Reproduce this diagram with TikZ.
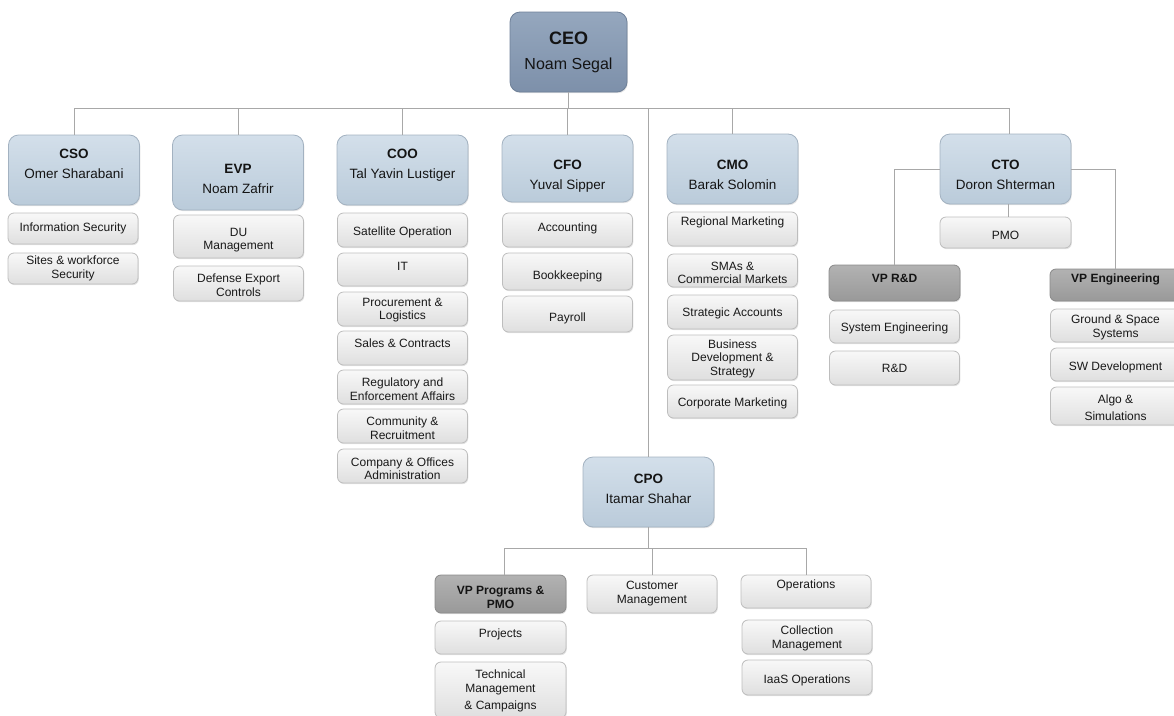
\documentclass[tikz,border=0pt]{standalone}
\usepackage{fontspec}
\setmainfont{Liberation Sans}
\usetikzlibrary{shadows}
\definecolor{chieftop}{HTML}{D3DFEA}
\definecolor{chiefbot}{HTML}{BACBDA}
\definecolor{chiefline}{HTML}{A3B2C1}
\definecolor{ceotop}{HTML}{95A7BE}
\definecolor{ceobot}{HTML}{7D90AA}
\definecolor{ceoline}{HTML}{6E8098}
\definecolor{vptop}{HTML}{B2B2B2}
\definecolor{vpbot}{HTML}{999999}
\definecolor{vpline}{HTML}{8A8A8A}
\definecolor{unittop}{HTML}{F8F8F8}
\definecolor{unitbot}{HTML}{DFDFDF}
\definecolor{unitline}{HTML}{BDBDBD}
\definecolor{linegray}{HTML}{A8A8A8}
\begin{document}
\begin{tikzpicture}[x=1pt,y=-1pt,
    shade box/.style={drop shadow={shadow xshift=.8pt, shadow yshift=-1.2pt, opacity=.22}},
    chief/.style={rectangle, rounded corners=10, minimum width=131, minimum height=70, inner sep=0, draw=chiefline, line width=.8, top color=chieftop, bottom color=chiefbot, shade box},
    ceobox/.style={chief, minimum width=117, minimum height=80, draw=ceoline, top color=ceotop, bottom color=ceobot},
    vp/.style={rectangle, rounded corners=6, minimum width=131, inner sep=0, draw=vpline, line width=.8, top color=vptop, bottom color=vpbot, shade box},
    unit/.style={rectangle, rounded corners=6, minimum width=130, inner sep=0, draw=unitline, line width=.8, top color=unittop, bottom color=unitbot, shade box},
    chieftxt/.style={align=center, inner sep=0, text=black!92, font=\fontsize{13.5}{20}\selectfont},
    vptxt/.style={align=center, inner sep=0, text=black!92, font=\bfseries\fontsize{12}{14}\selectfont},
    unittxt/.style={align=center, inner sep=0, text=black!90, font=\fontsize{12}{13.5}\selectfont},
    ctx/.style n args={2}{label={[chieftxt,yshift=#1]center:#2}},
    vtx/.style n args={2}{label={[vptxt,yshift=#1]center:#2}},
    tx/.style n args={2}{label={[unittxt,yshift=#1]center:#2}},
    link/.style={draw=linegray, line width=.8}]
\useasboundingbox (0,0) rectangle (1174,715);

% top level
\node[ceobox, label={[align=center, inner sep=0, text=black!92, font=\fontsize{16}{25}\selectfont]center:{\textbf{\fontsize{18}{25}\selectfont CEO}\\Noam Segal}}] (ceo) at (568.5,52) {};
\node[chief, ctx={6}{\textbf{CSO}\\Omer Sharabani}] (cso) at (74,170) {};
\node[chief, minimum height=75, ctx={-6.5}{\textbf{EVP}\\Noam Zafrir}] (evp) at (238,172.5) {};
\node[chief, ctx={5}{\textbf{COO}\\Tal Yavin Lustiger}] (coo) at (402.5,170) {};
\node[chief, minimum height=67, ctx={-8}{\textbf{CFO}\\Yuval Sipper}] (cfo) at (567.5,168.5) {};
\node[chief, ctx={-6}{\textbf{CMO}\\Barak Solomin}] (cmo) at (732.5,169) {};
\node[chief, ctx={-6}{\textbf{CTO}\\Doron Shterman}] (cto) at (1005.5,169) {};
\node[chief, ctx={3.5}{\textbf{CPO}\\Itamar Shahar}] (cpo) at (648.5,492) {};

\draw[link] (ceo.south) -- ++(0,16) coordinate (bar);
\foreach \n in {cso,evp,coo,cfo,cmo,cpo}
    \draw[link] (bar) -| (\n.north);
\draw[link] (bar) -| ([xshift=4]cto.north);

% CSO
\node[unit, minimum height=31, tx={0}{Information Security}] (infosec) at (73,228.5) {};
\node[unit, minimum height=31, tx={0}{Sites \& workforce\\Security}] (sites) at (73,268.5) {};
% EVP
\node[unit, minimum height=43, tx={-3.5}{DU\\Management}] (du) at (238.5,236.5) {};
\node[unit, minimum height=35, tx={-1.5}{Defense Export\\Controls}] (defexp) at (238.5,283.5) {};
% COO
\node[unit, minimum height=34, tx={-2}{Satellite Operation}] (satop) at (402.5,230) {};
\node[unit, minimum height=33, tx={3.5}{IT}] (it) at (402.5,269.5) {};
\node[unit, minimum height=34, tx={-1}{Procurement \&\\Logistics}] (procure) at (402.5,309) {};
\node[unit, minimum height=34, tx={5}{Sales \& Contracts}] (sales) at (402.5,348) {};
\node[unit, minimum height=34, tx={-2}{Regulatory and\\Enforcement Affairs}] (regul) at (402.5,387) {};
\node[unit, minimum height=34, tx={-2}{Community \&\\Recruitment}] (commun) at (402.5,426) {};
\node[unit, minimum height=34, tx={-2.5}{Company \& Offices\\Administration}] (company) at (402.5,466) {};
% CFO
\node[unit, minimum height=34, tx={2}{Accounting}] (acct) at (567.5,230) {};
\node[unit, minimum height=37, tx={-4.5}{Bookkeeping}] (bookk) at (567.5,271.5) {};
\node[unit, minimum height=36, tx={-4}{Payroll}] (payroll) at (567.5,314) {};
% CMO
\node[unit, minimum height=34, tx={7}{Regional Marketing}] (regional) at (732.5,229) {};
\node[unit, minimum height=33, tx={-2.5}{SMAs \&\\Commercial Markets}] (smas) at (732.5,270.5) {};
\node[unit, minimum height=34, tx={-1}{Strategic Accounts}] (strat) at (732.5,312) {};
\node[unit, minimum height=45, tx={-1}{Business\\Development \&\\Strategy}] (bizdev) at (732.5,357.5) {};
\node[unit, minimum height=33, tx={-1.5}{Corporate Marketing}] (corpmkt) at (732.5,401.5) {};

% CTO
\node[unit, minimum width=131, minimum height=31, tx={-2.5}{PMO}] (pmo) at (1005.5,232.5) {};
\node[vp, minimum height=36, vtx={5}{VP R\&D}] (vprnd) at (894.5,283) {};
\node[unit, minimum height=33, tx={-1.5}{System Engineering}] (syseng) at (894.5,326.5) {};
\node[unit, minimum height=34, tx={0}{R\&D}] (rnd) at (894.5,368) {};
\node[vp, minimum height=32, vtx={6}{VP Engineering}] (vpeng) at (1115.5,285) {};
\node[unit, minimum height=33, tx={-2}{Ground \& Space\\Systems}] (ground) at (1115.5,325.5) {};
\node[unit, minimum height=33, tx={-2.5}{SW Development}] (swdev) at (1115.5,364.5) {};
\node[unit, minimum height=38, tx={-1.5}{Algo \&\\[3pt]Simulations}] (algo) at (1115.5,406) {};

\draw[link] (cto.west) -| (vprnd.north);
\draw[link] (cto.east) -| (vpeng.north);
\draw[link] ([xshift=3]cto.south) -- ([xshift=3]pmo.north);

% CPO
\node[vp, minimum height=38, vtx={-3}{VP Programs \&\\PMO}] (vpprog) at (500.5,594) {};
\node[unit, minimum height=38, tx={0.5}{Customer\\Management}] (custmgmt) at (652,594) {};
\node[unit, minimum height=33, tx={6.5}{Operations}] (ops) at (806,591.5) {};
\node[unit, minimum width=131, minimum height=33, tx={3.5}{Projects}] (projects) at (500.5,637.5) {};
\node[unit, minimum width=131, minimum height=56, tx={-1}{Technical\\Management\\[4pt]\& Campaigns}] (techmgmt) at (500.5,690) {};
\node[unit, minimum height=34, tx={-1.5}{Collection\\Management}] (collect) at (807,637) {};
\node[unit, minimum height=35, tx={-2.5}{IaaS Operations}] (iaas) at (807,677.5) {};

\draw[link] (cpo.south) -- ++(0,21) coordinate (pbar);
\draw[link] (pbar) -| ([xshift=3.5]vpprog.north);
\draw[link] (pbar) -| (custmgmt.north);
\draw[link] (pbar) -| (ops.north);

\end{tikzpicture}
\end{document}
